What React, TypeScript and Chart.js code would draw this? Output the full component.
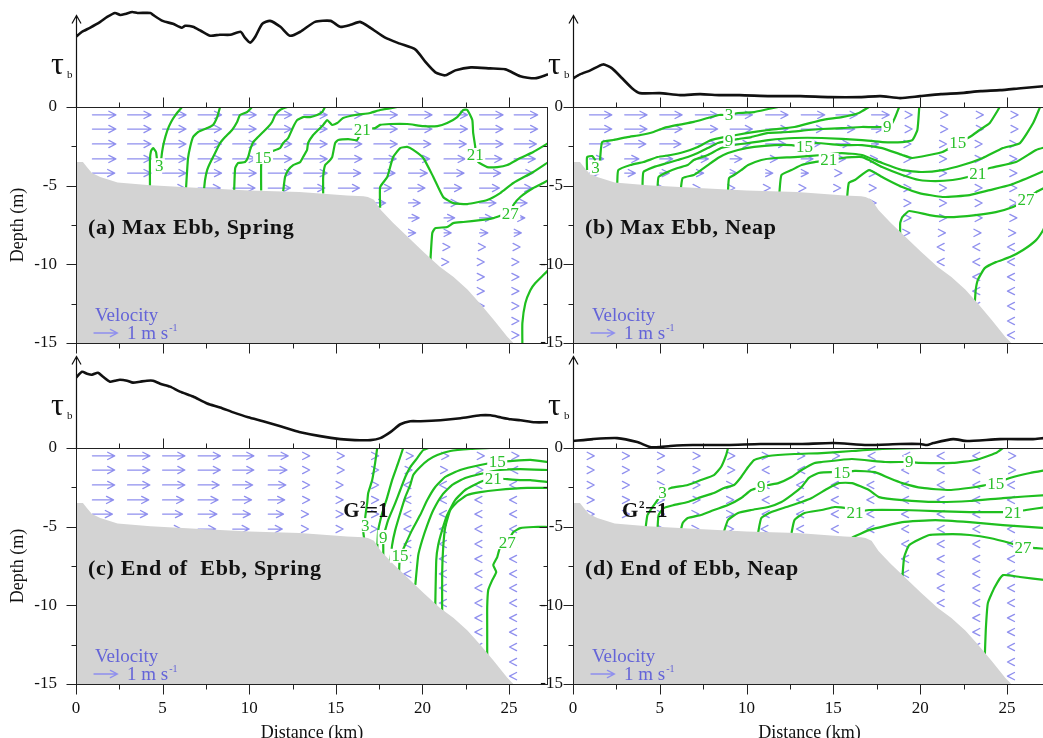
import React, { useEffect, useRef } from 'react';
import { Chart, registerables } from 'chart.js';

Chart.register(...registerables);

const SERIF = "'Liberation Serif', 'Times New Roman', serif";
const GREEN = '#1fbf1f';
const ARROW = '#8f8fee';
const LEGEND_BLUE = '#6464d8';
const GRAY = '#d3d3d3';
const X_MAX = 27.25;
const ARROW_KM_PER_MS = 1.35;

type Pt = [number, number];

// ---------- bathymetry (distance km, depth m) ----------
const bathyX = [0, 0.4, 0.65, 0.92, 1.4, 2.4, 4.3, 7.2, 10, 12.9, 13.7, 15.65, 16.6, 16.85, 17.2, 17.6, 18.3, 19.1, 20.05, 21.0, 21.8, 22.6, 23.3, 24.1, 24.9, 25.25];
const bathyD = [-3.5, -3.5, -3.85, -4.2, -4.45, -4.8, -4.97, -5.15, -5.3, -5.4, -5.47, -5.62, -5.68, -5.72, -5.9, -6.55, -7.35, -8.2, -9.2, -10.15, -10.8, -11.6, -12.45, -13.5, -14.6, -15];

// ---------- velocity grid ----------
const arrowX = [0.95, 2.98, 5.0, 7.05, 9.05, 11.1, 13.15, 15.15, 17.2, 19.2, 21.25, 23.3, 25.3];
const arrowD = [-0.5, -1.4, -2.35, -3.3, -4.2, -5.15, -6.1, -7.05, -8.0, -8.9, -9.85, -10.8, -11.7, -12.65, -13.6, -14.5];

const uA = [
  [1, 1, 1, 1, 1, 1, 1, 1, 1, 1, 1, 1, 1],
  [1, 1, 1, 1, 1, 1, 1, 1, 1, 1, 1, 1, 1],
  [1, 1, 1, 1, 1, 1, 1, 1, 1, .95, .95, 1, .95],
  [1, 1, 1, 1, 1, 1, 1, 1, .95, .9, .9, .95, .9],
  [.95, 1, 1, 1, 1, 1, 1, .95, .9, .8, .85, .9, .8],
  [.9, .9, .95, .95, .95, .95, .9, .9, .75, .7, .75, .85, .75],
  [0, 0, 0, 0, 0, 0, 0, 0, .5, .5, .6, .7, .55],
  [0, 0, 0, 0, 0, 0, 0, 0, 0, .45, .45, .55, .45],
  [0, 0, 0, 0, 0, 0, 0, 0, 0, .3, .3, .35, .3],
  [0, 0, 0, 0, 0, 0, 0, 0, 0, 0, .25, .25, .25],
  [0, 0, 0, 0, 0, 0, 0, 0, 0, 0, .2, .2, .2],
  [0, 0, 0, 0, 0, 0, 0, 0, 0, 0, 0, .2, .2],
  [0, 0, 0, 0, 0, 0, 0, 0, 0, 0, 0, .2, .2],
  [0, 0, 0, 0, 0, 0, 0, 0, 0, 0, 0, .2, .2],
  [0, 0, 0, 0, 0, 0, 0, 0, 0, 0, 0, 0, .2],
  [0, 0, 0, 0, 0, 0, 0, 0, 0, 0, 0, 0, .2],
];
const uB = [
  [.95, .95, .95, .95, .95, .95, 1, .9, .75, .25, .25, .25, .25],
  [.95, .95, .95, .95, .95, .95, .95, .8, .5, .25, .25, .25, .25],
  [.9, .9, .9, .9, .85, .85, .8, .6, .3, .2, .2, .2, .2],
  [.6, .6, .55, .55, .5, .5, .5, .4, .25, .2, .2, .2, .2],
  [.45, .45, .4, .35, .3, .3, .3, .25, .2, .2, .2, .2, .2],
  [.2, .2, .2, .2, .2, .2, .2, .2, .2, .2, .2, .2, .2],
  [0, 0, 0, 0, 0, 0, 0, 0, .2, .2, .2, .2, .2],
  [0, 0, 0, 0, 0, 0, 0, 0, 0, .2, .2, .2, .2],
  [0, 0, 0, 0, 0, 0, 0, 0, 0, .15, .15, .15, .15],
  [0, 0, 0, 0, 0, 0, 0, 0, 0, 0, -.2, -.2, -.2],
  [0, 0, 0, 0, 0, 0, 0, 0, 0, 0, -.2, -.2, -.2],
  [0, 0, 0, 0, 0, 0, 0, 0, 0, 0, 0, -.2, -.2],
  [0, 0, 0, 0, 0, 0, 0, 0, 0, 0, 0, -.2, -.2],
  [0, 0, 0, 0, 0, 0, 0, 0, 0, 0, 0, -.2, -.2],
  [0, 0, 0, 0, 0, 0, 0, 0, 0, 0, 0, 0, -.2],
  [0, 0, 0, 0, 0, 0, 0, 0, 0, 0, 0, 0, -.2],
];
const uC = [
  [.95, .95, .95, .95, .9, .85, .25, .25, .2, .2, .2, .2, .2],
  [.95, .95, .95, .95, .9, .8, .25, .25, .2, .15, .15, .15, -.15],
  [.95, .95, .95, .9, .85, .75, .25, .2, .2, -.2, -.2, -.2, -.2],
  [.9, .9, .9, .85, .8, .7, .25, .2, .2, -.2, -.2, -.2, -.2],
  [.85, .85, .85, .8, .75, .65, .2, .2, .2, -.2, -.2, -.2, -.2],
  [.8, .8, .8, .75, .7, .6, .2, .2, .15, -.2, -.2, -.2, -.2],
  [0, 0, 0, 0, 0, 0, 0, 0, 0, -.2, -.2, -.2, -.2],
  [0, 0, 0, 0, 0, 0, 0, 0, 0, -.2, -.2, -.2, -.2],
  [0, 0, 0, 0, 0, 0, 0, 0, 0, -.2, -.2, -.2, -.2],
  [0, 0, 0, 0, 0, 0, 0, 0, 0, 0, -.2, -.2, -.2],
  [0, 0, 0, 0, 0, 0, 0, 0, 0, 0, -.2, -.2, -.2],
  [0, 0, 0, 0, 0, 0, 0, 0, 0, 0, 0, -.2, -.2],
  [0, 0, 0, 0, 0, 0, 0, 0, 0, 0, 0, -.2, -.2],
  [0, 0, 0, 0, 0, 0, 0, 0, 0, 0, 0, -.2, -.2],
  [0, 0, 0, 0, 0, 0, 0, 0, 0, 0, 0, 0, -.2],
  [0, 0, 0, 0, 0, 0, 0, 0, 0, 0, 0, 0, -.2],
];
const uD = [
  [.2, .2, .2, .2, .2, .15, .15, .15, -.15, -.15, -.2, -.2, .15],
  [.2, .2, .2, .2, .2, -.15, -.15, -.15, -.15, -.2, -.2, -.2, .15],
  [.2, .2, .2, .2, .15, -.15, -.2, -.2, -.2, -.2, -.2, -.2, -.2],
  [.2, .2, .2, .2, .15, -.15, -.2, -.2, -.2, -.2, -.2, -.2, -.2],
  [.2, .2, .2, .15, .15, -.15, -.2, -.2, -.2, -.2, -.2, -.2, -.2],
  [.2, .2, .2, .15, .15, -.2, -.2, -.2, -.2, -.2, -.2, -.2, -.2],
  [0, 0, 0, 0, 0, 0, 0, 0, 0, -.2, -.2, -.2, -.2],
  [0, 0, 0, 0, 0, 0, 0, 0, 0, -.2, -.2, -.2, -.2],
  [0, 0, 0, 0, 0, 0, 0, 0, 0, -.2, -.2, -.2, -.2],
  [0, 0, 0, 0, 0, 0, 0, 0, 0, 0, -.2, -.2, -.2],
  [0, 0, 0, 0, 0, 0, 0, 0, 0, 0, -.2, -.2, -.2],
  [0, 0, 0, 0, 0, 0, 0, 0, 0, 0, 0, -.2, -.2],
  [0, 0, 0, 0, 0, 0, 0, 0, 0, 0, 0, -.2, -.2],
  [0, 0, 0, 0, 0, 0, 0, 0, 0, 0, 0, -.2, -.2],
  [0, 0, 0, 0, 0, 0, 0, 0, 0, 0, 0, 0, -.2],
  [0, 0, 0, 0, 0, 0, 0, 0, 0, 0, 0, 0, -.2],
];

// ---------- bed stress tau_b (distance km, relative) ----------
const tauA: Pt[] = [[0, .71], [.35, .76], [.8, .80], [1.4, .86], [1.8, .91], [2.25, .95], [2.55, .93], [2.85, .94], [3.25, .96], [3.55, .95], [4.3, .95], [4.45, .93], [5.0, .87], [5.6, .84], [6.1, .80], [6.3, .82], [6.75, .81], [7.2, .77], [7.75, .72], [8.3, .73], [8.9, .73], [9.5, .76], [9.75, .70], [10.05, .65], [10.35, .71], [10.75, .84], [11.2, .87], [11.8, .81], [12.35, .72], [12.95, .76], [13.8, .86], [14.7, .87], [15.25, .81], [15.85, .83], [16.4, .86], [17.0, .80], [17.85, .70], [18.7, .64], [19.6, .58], [20.2, .45], [20.75, .35], [21.3, .32], [21.9, .37], [22.8, .40], [23.9, .39], [24.8, .38], [25.65, .31], [26.5, .29], [27.25, .33]];
const tauB: Pt[] = [[0, .29], [.4, .33], [1.0, .37], [1.73, .43], [2.25, .39], [2.83, .29], [3.4, .19], [3.86, .14], [5.0, .14], [6.17, .12], [7.32, .13], [8.48, .12], [9.6, .12], [11.36, .11], [13.1, .11], [14.8, .10], [16.55, .10], [17.7, .11], [18.85, .09], [20.0, .11], [21.2, .13], [22.3, .14], [23.5, .16], [24.6, .17], [25.8, .19], [27.1, .21], [27.25, .21]];
const tauC: Pt[] = [[0, .71], [.35, .77], [.64, .75], [.92, .74], [1.27, .76], [1.56, .72], [1.97, .67], [2.25, .68], [2.54, .69], [2.95, .68], [3.29, .66], [3.7, .67], [4.1, .68], [4.45, .68], [4.86, .65], [5.43, .62], [6.0, .57], [6.76, .52], [7.57, .45], [8.32, .41], [9.08, .36], [9.94, .31], [10.8, .27], [11.8, .22], [12.54, .18], [12.95, .16], [14.1, .12], [15.26, .09], [16.1, .08], [17.0, .08], [17.57, .10], [18.15, .16], [18.73, .24], [19.3, .27], [19.9, .27], [21.04, .28], [22.2, .30], [23.35, .33], [23.93, .33], [24.5, .31], [25.1, .29], [25.66, .28], [26.5, .26], [27.25, .26]];
const tauD: Pt[] = [[0, .07], [1.15, .09], [2.54, .10], [3.7, .06], [4.44, .01], [5.0, .01], [5.6, .02], [6.9, .03], [8.9, .03], [10.8, .04], [13.1, .04], [15.0, .05], [16.95, .03], [18.85, .04], [20.0, .04], [20.4, .03], [20.76, .05], [21.9, .09], [22.7, .07], [24.6, .09], [26.5, .09], [27.1, .10], [27.25, .10]];

// ---------- salinity contours (distance km, depth m) ----------
const sA3: Pt[] = [[6.12, 0], [5.78, -0.45], [5.49, -0.95], [5.26, -1.53], [5.08, -2.23], [4.97, -2.86], [4.91, -3.37], [4.79, -3.69], [4.68, -3.37], [4.62, -2.86], [4.45, -2.61], [4.33, -2.8], [4.27, -3.37], [4.27, -5.2]];
const sA6: Pt[] = [[8.32, 0], [8.15, -0.64], [7.91, -1.14], [7.57, -1.34], [7.05, -1.59], [6.76, -1.91], [6.59, -2.54], [6.47, -3.24], [6.41, -4.13], [6.35, -5.2]];
const sA9: Pt[] = [[10.17, 0], [9.88, -0.32], [9.47, -0.51], [9.3, -0.95], [9.01, -1.46], [8.61, -1.91], [8.32, -2.29], [8.03, -2.93], [7.74, -3.56], [7.57, -4.01], [7.45, -4.64], [7.39, -5.25]];
const sA12: Pt[] = [[12.19, 0], [11.78, -0.19], [11.5, -0.51], [11.32, -0.95], [11.09, -1.27], [10.8, -1.59], [10.51, -1.91], [10.23, -2.23], [10.05, -2.73], [9.94, -3.18], [9.76, -3.5], [9.36, -3.56], [9.19, -3.88], [9.13, -5.3]];
const sA15: Pt[] = [[10.69, -5.3], [10.69, -3.69], [10.8, -3.18], [11.21, -2.86], [11.78, -2.61], [11.96, -2.29], [12.25, -1.97], [12.54, -1.27], [12.77, -0.83], [13.11, -0.64], [13.52, -0.64], [13.92, -0.51], [14.21, -0.32], [14.38, 0]];
const sA18: Pt[] = [[11.96, -5.35], [12.07, -4.45], [12.25, -4.01], [12.54, -3.69], [12.94, -3.5], [13.11, -3.18], [13.34, -2.73], [13.4, -2.29], [13.69, -1.78], [13.98, -1.46], [14.27, -1.14], [14.5, -0.83], [14.79, -1.14], [15.08, -1.02], [15.42, -0.7], [16.12, -0.51], [16.98, -0.38], [17.56, -0.19], [18.54, 0]];
const sA21: Pt[] = [[14.27, -5.5], [14.27, -4.45], [14.38, -3.69], [14.56, -3.5], [14.79, -3.18], [14.96, -2.29], [15.14, -2.1], [15.71, -2.04], [16.23, -2.1], [16.52, -1.46], [17.27, -1.34], [17.56, -1.14], [18.14, -1.08], [19.12, -1.08], [20.05, -1.21], [20.86, -1.21], [21.43, -1.02], [22.01, -0.64], [22.36, -0.19], [22.59, -0.19], [22.88, -0.83], [22.93, -1.65], [23.05, -2.54], [23.05, -3.05], [23.22, -3.5], [23.74, -3.82], [24.32, -3.82], [24.9, -3.69], [25.65, -3.24], [26.4, -2.86], [27.27, -2.29]];
const sA24: Pt[] = [[17.56, -6.4], [17.56, -5.09], [17.97, -4.45], [18.31, -3.18], [18.72, -2.61], [19.12, -2.54], [19.47, -2.73], [20.05, -3.24], [20.63, -4.45], [21.2, -5.72], [21.78, -6.11], [22.59, -6.17], [23.74, -5.91], [24.49, -5.47], [25.25, -4.83], [26.4, -4.13], [27.27, -3.5]];
const sA27: Pt[] = [[20.45, -9.95], [20.57, -8.01], [20.74, -7.7], [21.43, -7.63], [21.78, -7.38], [22.36, -7.31], [23.34, -7.19], [24.09, -7.06], [24.61, -6.87], [25.07, -6.74], [25.25, -6.23], [25.65, -5.72], [26.4, -5.15], [26.98, -4.83], [27.27, -4.64]];
const sA30: Pt[] = [[25.77, -15], [25.77, -13.74], [25.94, -12.47], [26.23, -11.64], [26.52, -11.19], [26.98, -10.68], [27.27, -10.37]];

const sB3: Pt[] = [[1.55, -3.5], [1.57, -3.18], [1.68, -2.23], [2.32, -2.1], [3.13, -1.91], [3.89, -1.78], [4.64, -1.59], [5.22, -1.34], [6.03, -1.14], [6.96, -0.95], [7.77, -0.7], [8.41, -0.51], [8.99, -0.51], [9.51, -0.38], [10.44, -0.32], [11.25, -0.13], [11.83, 0]];
const sB3b: Pt[] = [[0.81, -4.0], [0.81, -3.18], [1.1, -3.12], [1.3, -3.4]];
const sB6: Pt[] = [[2.55, -4.83], [2.61, -4.01], [3.31, -3.69], [4.06, -3.5], [4.87, -3.18], [5.63, -3.05], [6.38, -2.86], [7.19, -2.54], [7.95, -2.1], [8.7, -1.91], [10.09, -1.65], [11.25, -1.46], [12.76, -1.27], [14.33, -0.83], [15.49, -0.64], [16.47, -0.38], [17.05, 0]];
const sB9: Pt[] = [[4.0, -5.1], [4.06, -4.13], [4.64, -3.82], [5.45, -3.56], [6.03, -3.37], [6.61, -3.18], [7.19, -2.93], [7.77, -2.61], [8.35, -2.29], [9.51, -2.04], [10.27, -1.91], [11.25, -1.65], [12.41, -1.59], [13.57, -1.46], [14.33, -1.4], [15.49, -1.34], [16.65, -1.27], [17.81, -1.27], [18.39, -1.02], [18.56, -0.64], [18.79, 0]];
const sB12: Pt[] = [[4.87, -5.15], [4.93, -4.45], [5.45, -4.13], [6.03, -3.88], [6.61, -3.69], [6.96, -3.37], [7.77, -3.05], [8.53, -2.61], [9.28, -2.42], [10.09, -2.29], [11.25, -2.1], [12.76, -1.97], [14.33, -1.97], [16.65, -2.1], [17.81, -2.23], [18.97, -2.23], [19.55, -2.1], [19.84, -1.46], [19.95, 0]];
const sB15: Pt[] = [[6.21, -5.2], [6.32, -4.52], [6.96, -4.32], [7.37, -4.01], [7.77, -3.69], [8.35, -3.24], [8.93, -2.93], [9.51, -2.73], [10.44, -2.54], [11.6, -2.42], [12.59, -2.42], [13.34, -2.54], [13.92, -2.29], [15.49, -2.42], [16.65, -2.42], [17.81, -2.61], [18.97, -3.05], [19.55, -3.24], [20.53, -3.05], [21.29, -2.86], [21.69, -2.61], [22.16, -2.29], [22.85, -1.91], [23.43, -1.46], [24.01, -1.02], [24.59, 0]];
const sB18: Pt[] = [[8.93, -5.3], [8.99, -4.52], [9.28, -4.32], [9.69, -4.01], [10.09, -3.69], [10.85, -3.37], [11.6, -3.24], [12.76, -3.18], [14.33, -3.05], [15.49, -2.93], [16.65, -3.05], [17.81, -3.56], [18.97, -4.01], [20.13, -4.13], [21.29, -4.01], [22.45, -3.69], [23.61, -3.24], [24.77, -2.61], [25.75, -2.29], [26.51, -1.02], [26.91, 0]];
const sB21: Pt[] = [[11.89, -5.45], [12.01, -4.32], [12.59, -4.01], [13.17, -3.69], [13.92, -3.5], [14.73, -3.37], [15.49, -3.24], [16.65, -3.18], [17.05, -3.37], [17.81, -3.82], [18.97, -4.32], [19.95, -4.64], [20.88, -4.71], [21.87, -4.64], [22.74, -4.45], [23.32, -4.2], [24.01, -3.88], [25.52, -3.5], [26.68, -2.73], [27.26, -2.54]];
const sB24: Pt[] = [[15.78, -5.91], [15.89, -4.83], [16.24, -4.64], [17.05, -4.01], [17.81, -4.45], [18.97, -5.09], [19.95, -5.47], [21.29, -5.72], [22.85, -5.6], [24.01, -5.28], [25.17, -4.96], [26.33, -4.45], [27.26, -4.01]];
const sB27: Pt[] = [[18.85, -8.2], [18.85, -7.38], [18.97, -7.0], [19.37, -6.61], [20.53, -6.87], [21.69, -7.0], [23.2, -6.87], [24.36, -6.68], [25.35, -6.36], [26.1, -5.91], [26.68, -5.41], [27.26, -5.09]];
const sB30: Pt[] = [[23.14, -12.6], [23.2, -11.64], [23.32, -11.0], [23.72, -10.24], [24.36, -9.86], [25.17, -9.54], [25.93, -9.09], [26.68, -8.46], [27.09, -7.82], [27.26, -7.38]];

const sC3: Pt[] = [[17.39, 0], [17.27, -0.95], [17.1, -2.04], [16.87, -2.86], [16.81, -3.5], [16.7, -4.39], [16.7, -4.9], [16.58, -5.22], [16.64, -5.8]];
const sC6: Pt[] = [[18.89, 0], [18.6, -0.95], [18.25, -2.04], [17.97, -3.12], [17.68, -4.13], [17.45, -5.22], [17.39, -6.4]];
const sC9: Pt[] = [[20.34, 0], [20.05, -0.13], [19.7, -0.64], [19.3, -1.21], [19.01, -1.84], [18.72, -2.67], [18.43, -3.5], [18.02, -4.58], [17.85, -5.22], [17.74, -5.66], [17.74, -6.3], [17.74, -7.2]];
const sC12: Pt[] = [[18.14, -7.3], [18.25, -6.17], [18.43, -5.22], [18.72, -4.13], [19.01, -3.12], [19.3, -2.35], [19.47, -1.72], [19.87, -1.21], [20.34, -0.76], [20.86, -0.45], [21.61, -0.19], [22.76, -0.06], [23.92, 0]];
const sC15: Pt[] = [[18.65, -7.9], [18.7, -6.93], [19.0, -6.17], [19.4, -5.22], [19.87, -4.26], [20.28, -3.31], [20.74, -2.48], [21.32, -1.84], [22.18, -1.4], [23.34, -1.08], [24.32, -0.89], [25.07, -0.83], [26.23, -0.76], [27.27, -0.89]];
const sC18: Pt[] = [[19.59, -8.7], [19.76, -6.81], [19.99, -5.85], [20.28, -4.9], [20.63, -3.94], [21.14, -2.99], [21.72, -2.35], [22.47, -1.91], [23.34, -1.65], [24.49, -1.4], [25.65, -1.34], [27.27, -1.4]];
const sC21: Pt[] = [[20.74, -10.1], [20.8, -7.12], [20.91, -6.17], [21.14, -5.22], [21.43, -4.26], [21.89, -3.31], [22.47, -2.67], [23.34, -2.16], [24.09, -1.91], [24.78, -1.97], [25.65, -2.04], [26.23, -2.04], [27.27, -2.16]];
const sC24: Pt[] = [[21.14, -10.6], [21.14, -7.95], [21.2, -6.3], [21.32, -5.02], [21.61, -3.94], [22.01, -3.43], [22.59, -2.99], [23.34, -2.8], [24.32, -2.67], [26.05, -2.54], [27.27, -2.54]];
const sC27: Pt[] = [[23.74, -13.6], [23.74, -11.58], [23.74, -10.11], [23.8, -9.03], [24.03, -8.4], [24.26, -7.89], [24.09, -7.44], [24.32, -6.93], [24.49, -6.3], [24.9, -5.98], [25.25, -5.34], [25.65, -5.09], [26.4, -5.02], [27.27, -5.02]];

const sD3: Pt[] = [[4.18, -5.1], [4.29, -4.26], [4.58, -3.75], [4.87, -3.31], [5.16, -2.8], [5.63, -2.54], [6.61, -2.35], [7.37, -2.04], [8.12, -1.72], [8.53, -1.21], [8.82, -0.45], [8.93, 0]];
const sD6: Pt[] = [[4.87, -5.15], [4.93, -4.26], [5.22, -3.82], [5.8, -3.63], [6.61, -3.43], [7.37, -3.12], [8.12, -2.86], [8.7, -2.54], [9.28, -2.35], [9.69, -1.84], [10.09, -1.21], [10.44, -0.76], [11.25, -0.51], [12.76, -0.38], [14.33, -0.32], [16.07, -0.19], [17.81, -0.06], [20.13, 0]];
const sD9: Pt[] = [[6.21, -5.25], [6.32, -4.77], [6.61, -4.45], [7.37, -4.26], [8.12, -3.94], [8.93, -3.63], [9.69, -3.18], [10.27, -2.67], [10.85, -2.48], [11.25, -2.35], [11.83, -2.23], [12.59, -1.84], [13.17, -1.4], [13.92, -0.95], [14.33, -0.89], [16.07, -0.7], [17.98, -0.89], [19.37, -0.89], [19.95, -0.95], [21.87, -0.95], [23.2, -0.76], [24.36, -0.32], [24.77, 0]];
const sD15: Pt[] = [[8.7, -5.3], [8.93, -4.58], [9.51, -4.13], [10.27, -3.94], [11.25, -3.75], [12.01, -3.43], [12.59, -2.99], [13.17, -2.48], [13.57, -1.91], [14.15, -1.59], [14.91, -1.53], [15.49, -1.59], [16.24, -1.46], [17.4, -1.53], [18.21, -1.91], [18.97, -2.23], [20.13, -2.54], [21.69, -2.67], [23.2, -2.48], [23.78, -2.35], [24.36, -2.23], [25.17, -1.91], [26.33, -1.59], [27.26, -1.4]];
const sD18: Pt[] = [[10.67, -5.35], [10.85, -4.45], [11.43, -4.07], [12.3, -3.75], [13.17, -3.43], [13.75, -3.18], [14.73, -2.54], [15.31, -2.23], [16.07, -2.23], [17.05, -2.67], [17.63, -3.12], [18.97, -3.31], [20.88, -3.43], [22.85, -3.37], [24.77, -3.18], [27.26, -2.99]];
const sD21: Pt[] = [[12.59, -5.4], [12.76, -4.58], [13.34, -4.13], [14.33, -3.94], [15.08, -3.75], [15.78, -3.82], [16.24, -4.07], [17.05, -3.94], [18.97, -3.94], [20.88, -4.01], [22.85, -4.07], [24.36, -4.07], [25.35, -4.07], [26.1, -3.94], [27.26, -3.75]];
const sD24: Pt[] = [[16.07, -5.7], [17.05, -5.22], [18.97, -4.71], [20.88, -4.58], [22.85, -4.71], [24.77, -4.9], [27.26, -5.09]];
const sD27: Pt[] = [[18.97, -8.3], [19.08, -6.93], [19.37, -6.17], [20.53, -5.53], [21.87, -5.47], [22.85, -5.53], [24.01, -5.72], [25.17, -6.04], [25.93, -6.3], [26.68, -6.36], [27.26, -6.42]];
const sD30: Pt[] = [[23.72, -13.4], [23.78, -11.58], [23.9, -9.86], [24.3, -8.84], [24.77, -8.08], [25.75, -8.2], [27.26, -8.4]];

// ---------- contour labels (text, km, depth) ----------
type Lab = [string, number, number];
const labA: Lab[] = [['3', 4.8, -3.7], ['15', 10.8, -3.18], ['21', 16.52, -1.46], ['21', 23.05, -3.05], ['27', 25.07, -6.74]];
const labB: Lab[] = [['3', 8.99, -0.51], ['3', 1.3, -3.85], ['9', 8.99, -2.1], ['9', 18.1, -1.27], ['15', 13.34, -2.54], ['15', 22.16, -2.29], ['21', 14.73, -3.37], ['21', 23.32, -4.2], ['27', 26.1, -5.91]];
const labC: Lab[] = [['3', 16.7, -4.9], ['9', 17.74, -5.66], ['15', 18.7, -6.85], ['15', 24.32, -0.89], ['21', 24.09, -1.91], ['27', 24.9, -5.98]];
const labD: Lab[] = [['3', 5.16, -2.8], ['9', 10.85, -2.48], ['9', 19.37, -0.89], ['15', 15.49, -1.59], ['15', 24.36, -2.23], ['21', 16.24, -4.07], ['21', 25.35, -4.07], ['27', 25.93, -6.3]];

const PANELS = [
  { id: 'a', col: 0, row: 0, u: uA, tau: tauA, labels: labA, title: '(a) Max Ebb, Spring', g: null as null | Pt,
    contours: [sA3, sA6, sA9, sA12, sA15, sA18, sA21, sA24, sA27, sA30] },
  { id: 'b', col: 1, row: 0, u: uB, tau: tauB, labels: labB, title: '(b) Max Ebb, Neap', g: null as null | Pt,
    contours: [sB3, sB3b, sB6, sB9, sB12, sB15, sB18, sB21, sB24, sB27, sB30] },
  { id: 'c', col: 0, row: 1, u: uC, tau: tauC, labels: labC, title: '(c) End of  Ebb, Spring', g: [15.43, -4.39] as Pt,
    contours: [sC3, sC6, sC9, sC12, sC15, sC18, sC21, sC24, sC27] },
  { id: 'd', col: 1, row: 1, u: uD, tau: tauD, labels: labD, title: '(d) End of Ebb, Neap', g: [2.83, -4.39] as Pt,
    contours: [sD3, sD6, sD9, sD15, sD18, sD21, sD24, sD27, sD30] },
];

function bathyAt(x: number) {
  if (x <= bathyX[0]) return bathyD[0];
  for (let i = 1; i < bathyX.length; i++) {
    if (x <= bathyX[i]) {
      const t = (x - bathyX[i - 1]) / (bathyX[i] - bathyX[i - 1]);
      return bathyD[i - 1] + t * (bathyD[i] - bathyD[i - 1]);
    }
  }
  return -15;
}

function drawArrow(ctx: CanvasRenderingContext2D, x0: number, x1: number, y: number) {
  const dir = x1 >= x0 ? 1 : -1;
  const len = Math.abs(x1 - x0);
  const hl = 7, hw = 3.6;
  ctx.beginPath();
  if (len > hl) { ctx.moveTo(x0, y); ctx.lineTo(x1, y); }
  ctx.moveTo(x1 - dir * hl, y - hw);
  ctx.lineTo(x1, y);
  ctx.lineTo(x1 - dir * hl, y + hw);
  ctx.stroke();
}

function line(ctx: CanvasRenderingContext2D, x0: number, y0: number, x1: number, y1: number) {
  ctx.beginPath(); ctx.moveTo(x0, y0); ctx.lineTo(x1, y1); ctx.stroke();
}

function sectionPlugin(p: any) {
  return {
    id: 'section' + p.id,
    beforeDatasetsDraw(chart: any) {
      const { ctx, chartArea: a, scales } = chart;
      const xs = scales.x, ys = scales.y;
      ctx.save();
      ctx.beginPath(); ctx.rect(a.left, a.top, a.right - a.left, a.bottom - a.top); ctx.clip();
      ctx.strokeStyle = ARROW; ctx.lineWidth = 1.3; ctx.lineCap = 'round'; ctx.lineJoin = 'round';
      p.u.forEach((row: number[], r: number) => row.forEach((u: number, c: number) => {
        if (!u) return;
        const x0 = arrowX[c], d = arrowD[r];
        if (d < bathyAt(x0) - 0.25) return;
        drawArrow(ctx, xs.getPixelForValue(x0), xs.getPixelForValue(x0 + u * ARROW_KM_PER_MS), ys.getPixelForValue(d));
      }));
      ctx.restore();
    },
    afterDatasetsDraw(chart: any) {
      const { ctx, chartArea: a, scales } = chart;
      const xs = scales.x, ys = scales.y;
      ctx.save();
      // contour labels
      ctx.font = `17px ${SERIF}`;
      ctx.textAlign = 'center'; ctx.textBaseline = 'middle';
      for (const [t, lx, ld] of p.labels as Lab[]) {
        const px = xs.getPixelForValue(lx), py = ys.getPixelForValue(ld);
        const w = ctx.measureText(t).width;
        ctx.fillStyle = '#fff';
        ctx.fillRect(px - w / 2 - 1.5, py - 7, w + 3, 14);
        ctx.fillStyle = '#2cc02c';
        ctx.fillText(t, px, py + 1);
      }
      // frame
      ctx.strokeStyle = '#222'; ctx.lineWidth = 1;
      const L = Math.round(a.left) + 0.5, R = Math.round(a.right) - 0.5;
      const T = Math.round(a.top) + 0.5, B = Math.round(a.bottom) + 0.5;
      ctx.strokeRect(L, T, R - L, B - T);
      for (const t of ys.ticks) {
        const py = Math.round(ys.getPixelForValue(t.value)) + 0.5;
        const len = Math.abs(t.value % 5) < 1e-6 ? 10 : 5;
        line(ctx, L - len, py, L, py);
        if (p.col === 0) line(ctx, R - len * 0.8, py, R, py);
      }
      for (const t of xs.ticks) {
        const px = Math.round(xs.getPixelForValue(t.value)) + 0.5;
        const len = Math.abs(t.value % 5) < 1e-6 ? 10 : 5;
        line(ctx, px, T - len, px, T);
        line(ctx, px, B, px, B + len);
      }
      // panel title
      ctx.textAlign = 'left'; ctx.textBaseline = 'alphabetic';
      ctx.fillStyle = '#111';
      ctx.font = `bold 22px ${SERIF}`;
      (ctx as any).letterSpacing = '0.7px';
      ctx.fillText(p.title, a.left + 12, a.top + 127);
      (ctx as any).letterSpacing = '0px';
      // G^2 = 1
      if (p.g) {
        let gx = xs.getPixelForValue(p.g[0]);
        const gy = ys.getPixelForValue(p.g[1]);
        ctx.font = `bold 21px ${SERIF}`;
        ctx.fillText('G', gx, gy); gx += ctx.measureText('G').width;
        ctx.font = `bold 11px ${SERIF}`;
        ctx.fillText('2', gx + 0.5, gy - 9); gx += ctx.measureText('2').width + 1;
        ctx.font = `bold 21px ${SERIF}`;
        ctx.fillText('=1', gx, gy);
      }
      // velocity legend
      ctx.fillStyle = LEGEND_BLUE;
      ctx.font = `19px ${SERIF}`;
      ctx.fillText('Velocity', a.left + 19, a.top + 214);
      ctx.strokeStyle = ARROW; ctx.lineWidth = 1.3; ctx.lineCap = 'round';
      const x0 = a.left + 18;
      const x1 = x0 + (xs.getPixelForValue(ARROW_KM_PER_MS) - xs.getPixelForValue(0));
      drawArrow(ctx, x0, x1, a.top + 226);
      ctx.fillStyle = LEGEND_BLUE;
      ctx.font = `19px ${SERIF}`;
      const txt = '1 m s';
      ctx.fillText(txt, a.left + 51, a.top + 232);
      const tw = ctx.measureText(txt).width;
      ctx.font = `10px ${SERIF}`;
      ctx.fillText('-1', a.left + 52 + tw, a.top + 224);
      ctx.restore();
    },
  };
}

function tauPlugin() {
  return {
    id: 'tauaxis',
    afterDatasetsDraw(chart: any) {
      const { ctx, chartArea: a, scales } = chart;
      const ys = scales.y;
      const xL = Math.round(a.left) + 0.5;
      const yTip = ys.getPixelForValue(0.925);
      ctx.save();
      ctx.strokeStyle = '#111'; ctx.lineWidth = 1.2;
      ctx.beginPath();
      ctx.moveTo(xL, a.bottom); ctx.lineTo(xL, yTip);
      ctx.moveTo(xL - 4.5, yTip + 8); ctx.lineTo(xL, yTip); ctx.lineTo(xL + 4.5, yTip + 8);
      ctx.stroke();
      ctx.fillStyle = '#111';
      ctx.textAlign = 'left'; ctx.textBaseline = 'alphabetic';
      ctx.font = `32px ${SERIF}`;
      ctx.fillText('τ', a.left - 25, a.bottom - 33);
      ctx.font = `11px ${SERIF}`;
      ctx.fillText('b', a.left - 9, a.bottom - 29);
      ctx.restore();
    },
  };
}

function geom(p: any) {
  const left = p.col === 0;
  return {
    cx: left ? 0 : 520,
    cw: left ? 560 : 526,
    axisW: left ? 76 : 53,
    padR: left ? 12 : 0,
  };
}

function fixBox(size: number) {
  return (s: any) => {
    if (s.isHorizontal()) s.height = size; else s.width = size;
    s.paddingTop = 0; s.paddingBottom = 0; s.paddingLeft = 0; s.paddingRight = 0;
  };
}

function sectionConfig(p: any) {
  const g = geom(p);
  const bottomRow = p.row === 1;
  const datasets: any[] = [
    {
      data: bathyX.map((x, i) => ({ x, y: bathyD[i] })),
      fill: 'start', backgroundColor: GRAY, borderColor: GRAY, borderWidth: 0,
      pointRadius: 0, tension: 0, order: -1,
    },
    ...p.contours.map((c: Pt[]) => ({
      data: c.map(([x, y]) => ({ x, y })),
      borderColor: GREEN, borderWidth: 2.2, pointRadius: 0, fill: false,
      tension: 0.15, order: 1,
    })),
  ];
  return {
    type: 'line',
    data: { datasets },
    options: {
      animation: false, responsive: false, maintainAspectRatio: false, events: [],
      layout: { padding: { top: 12, right: g.padR, left: 0, bottom: 0 } },
      plugins: { legend: { display: false }, tooltip: { enabled: false } },
      scales: {
        x: {
          type: 'linear', position: 'bottom', min: 0, max: X_MAX,
          grid: { display: false, drawTicks: false }, border: { display: false },
          ticks: {
            display: bottomRow, stepSize: 2.5, includeBounds: false, autoSkip: false, maxRotation: 0,
            padding: 14, color: '#111', font: { family: SERIF, size: 17 },
            callback: (v: any) => (Math.abs(Number(v) % 5) < 1e-6 ? String(v) : ''),
          },
          title: { display: bottomRow, text: 'Distance (km)', color: '#111', font: { family: SERIF, size: 18 }, padding: { top: 0, bottom: 0 } },
          afterFit: fixBox(bottomRow ? 60 : 14),
        },
        y: {
          type: 'linear', position: 'left', min: -15, max: 0,
          grid: { display: false, drawTicks: false }, border: { display: false },
          ticks: {
            stepSize: 2.5, includeBounds: false, autoSkip: false,
            padding: p.col === 0 ? 19 : 10, color: '#111', font: { family: SERIF, size: 17 },
            callback: (v: any) => (Math.abs(Number(v) % 5) < 1e-6 ? String(v) : ''),
          },
          title: { display: p.col === 0, text: 'Depth (m)', color: '#111', font: { family: SERIF, size: 18 }, padding: { top: 7, bottom: 0 } },
          afterFit: fixBox(g.axisW),
        },
      },
    },
    plugins: [sectionPlugin(p)],
  };
}

function tauConfig(p: any) {
  const g = geom(p);
  const top = p.row === 0;
  return {
    type: 'line',
    data: {
      datasets: [{
        data: p.tau.map(([x, y]: Pt) => ({ x, y })),
        borderColor: '#111', borderWidth: 2.6, pointRadius: 0, fill: false, tension: 0.2,
      }],
    },
    options: {
      animation: false, responsive: false, maintainAspectRatio: false, events: [],
      layout: { padding: { left: g.axisW, right: g.padR, top: top ? 8 : 9, bottom: top ? 3 : 2 } },
      plugins: { legend: { display: false }, tooltip: { enabled: false } },
      scales: {
        x: { type: 'linear', min: 0, max: X_MAX, display: false },
        y: { type: 'linear', min: 0, max: 1, display: false },
      },
    },
    plugins: [tauPlugin()],
  };
}

function ChartCanvas({ left, top, width, height, make }: any) {
  const ref = useRef<HTMLCanvasElement>(null);
  useEffect(() => {
    const chart = new Chart(ref.current as HTMLCanvasElement, make());
    return () => chart.destroy();
  }, []);
  return (
    <canvas
      ref={ref}
      width={width}
      height={height}
      style={{ position: 'absolute', left, top, width, height }}
    />
  );
}

export default function App() {
  const items: any[] = [];
  for (const p of PANELS) {
    const g = geom(p);
    const secTop = p.row === 0 ? 95 : 436;
    const secH = p.row === 0 ? 262 : 308;
    const tauTop = p.row === 0 ? 0 : 340;
    items.push(
      <ChartCanvas key={'s' + p.id} left={g.cx} top={secTop} width={g.cw} height={secH} make={() => sectionConfig(p)} />
    );
    items.push(
      <ChartCanvas key={'t' + p.id} left={g.cx} top={tauTop} width={g.cw} height={110} make={() => tauConfig(p)} />
    );
  }
  return (
    <div style={{ position: 'fixed', left: 0, top: 0, width: 1043, height: 738, overflow: 'hidden', background: '#fff' }}>
      {items}
    </div>
  );
}
